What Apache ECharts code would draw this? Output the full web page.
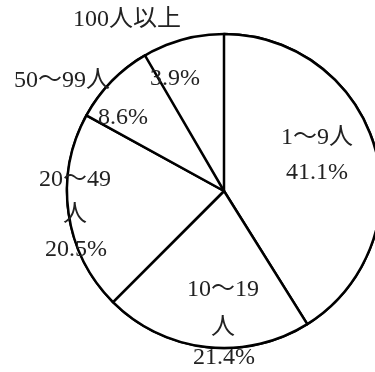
<!DOCTYPE html>
<html>
<head>
<meta charset="utf-8">
<style>
  html, body { margin: 0; padding: 0; background: #fff; }
  #chart { width: 375px; height: 372px; }
</style>
<script src="https://cdn.jsdelivr.net/npm/echarts@6/dist/echarts.min.js"></script>
</head>
<body>
<div id="chart"></div>
<script>
// Establishments by number of employees (share, %)
const categories = ['1～9人', '10～19人', '20～49人', '50～99人', '100人以上'];
const shares = [41.1, 21.4, 20.5, 8.6, 3.9];
// Share not reported in any size class; left blank in the circle
const unreportedShare = 4.5;

// Label anchor points (centre of each text block) and wrap widths
const nameAnchors = [[317, 138], [223, 309], [75, 197], [62, 81], [127, 20]];
const valueAnchors = [[317, 173], [224, 358], [76, 250], [123, 118], [175, 79]];
const nameWrap = [null, 80, 80, null, null];
const nameLineHeight = [30, 38, 35, 30, 30];

const FONT = '"Liberation Serif", "Noto Sans CJK JP", serif';
const TEXT = '#222';
const LINE = '#000';
const CENTER = [224, 191];
const RADIUS = 157;

const sliceData = categories.map((name, i) => ({
  name,
  value: shares[i],
  itemStyle: i < 3 || i === 3
    ? { color: '#fff', borderColor: LINE, borderWidth: 2.5 }
    : { color: 'rgba(0,0,0,0)', borderWidth: 0 }
}));
sliceData.push({
  name: '不詳',
  value: unreportedShare,
  itemStyle: { color: 'rgba(0,0,0,0)', borderWidth: 0 },
  label: { show: false }
});

const nameData = categories.map((name, i) => {
  const label = { lineHeight: nameLineHeight[i] };
  if (nameWrap[i]) { label.width = nameWrap[i]; label.overflow = 'break'; }
  return { name, value: shares[i], label };
});
nameData.push({ name: '不詳', value: unreportedShare, label: { show: false } });

const common = {
  type: 'pie',
  center: CENTER,
  radius: RADIUS,
  startAngle: 90,
  clockwise: true,
  animation: false,
  silent: true,
  labelLine: { show: false },
  emphasis: { disabled: true }
};

const chart = echarts.init(document.getElementById('chart'), null, { renderer: 'canvas' });
chart.setOption({
  backgroundColor: '#fff',
  series: [
    {
      // full outline of the circle
      ...common,
      z: 1,
      data: [{ value: 1, name: '' }],
      itemStyle: { color: '#fff', borderColor: LINE, borderWidth: 2.5 },
      label: { show: false }
    },
    {
      // slices with percentage labels
      ...common,
      z: 2,
      data: sliceData,
      label: {
        show: true,
        position: 'inside',
        formatter: p => p.value + '%',
        fontFamily: FONT,
        fontSize: 24,
        color: TEXT
      },
      labelLayout: p => {
        const a = valueAnchors[p.dataIndex];
        return a ? { x: a[0], y: a[1], align: 'center', verticalAlign: 'middle' } : {};
      }
    },
    {
      // category name labels
      ...common,
      z: 3,
      data: nameData,
      itemStyle: { color: 'rgba(0,0,0,0)', borderWidth: 0 },
      label: {
        show: true,
        position: 'inside',
        formatter: '{b}',
        fontFamily: FONT,
        fontSize: 24,
        color: TEXT,
        align: 'center'
      },
      labelLayout: p => {
        const a = nameAnchors[p.dataIndex];
        return a ? { x: a[0], y: a[1], align: 'center', verticalAlign: 'middle' } : {};
      }
    }
  ]
});
</script>
</body>
</html>
